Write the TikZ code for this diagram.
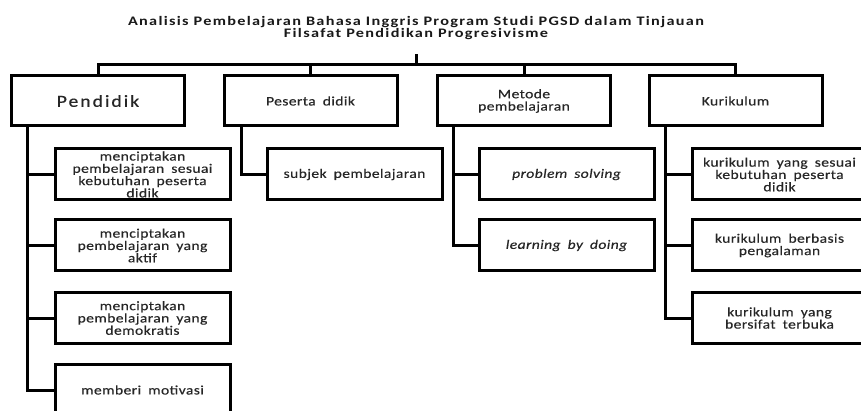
\documentclass[tikz,border=0pt]{standalone}
\usepackage{fontspec}
\setmainfont{Carlito}
\newfontfamily\boxf[FakeStretch=1.2,LetterSpace=3,WordSpace=1.8,FakeBold=0.3]{Carlito}
\newfontfamily\titf[FakeStretch=1.25,LetterSpace=10]{Carlito}
\newfontfamily\bigf[FakeStretch=1.15,LetterSpace=12,FakeBold=0.3]{Carlito}
\tikzset{
  box/.style={draw=black, line width=3pt, rectangle, align=center, inner sep=0pt,
    font=\boxf\fontsize{13}{12.3}\selectfont, text=black!85},
  topbox/.style={box, minimum width=173pt, minimum height=50pt},
  subbox/.style={box, minimum width=175pt, minimum height=51pt},
  conn/.style={draw=black, line width=3pt, line cap=rect},
}
\begin{document}
\begin{tikzpicture}[x=1pt,y=-1pt]
\useasboundingbox (0,0) rectangle (861,411);
\fill[white] (0,0) rectangle (861,411);
% title
\node[align=center, font=\titf\bfseries\fontsize{13}{12.3}\selectfont, inner sep=0pt, text=black!90] (title) at (416,28)
  {Analisis Pembelajaran Bahasa Inggris Program Studi PGSD dalam Tinjauan\\Filsafat Pendidikan Progresivisme};
\coordinate (stem) at (416,56);
% top boxes
\node[topbox, font=\bigf\fontsize{17}{17}\selectfont] (pend) at (98,101) {Pendidik};
\node[topbox] (pes) at (310.5,101) {Peserta didik};
\node[topbox] (met) at (524,101) {Metode\\pembelajaran};
\node[topbox] (kur) at (735.5,101) {Kurikulum};
% Pendidik children
\node[subbox] (p1) at (142.5,174.5) {menciptakan\\pembelajaran sesuai\\kebutuhan peserta\\didik};
\node[subbox] (p2) at (142.5,245.5) {menciptakan\\pembelajaran yang\\aktif};
\node[subbox] (p3) at (142.5,318) {menciptakan\\pembelajaran yang\\demokratis};
\node[subbox, minimum height=52pt] (p4) at (142.5,390) {memberi motivasi};
% Peserta child
\node[subbox] (s1) at (354.5,174.5) {subjek pembelajaran};
% Metode children
\node[subbox] (m1) at (566.5,174.5) {\itshape problem solving};
\node[subbox] (m2) at (566.5,245.5) {\itshape learning by doing};
% Kurikulum children
\node[subbox] (k1) at (779.5,174.5) {kurikulum yang sesuai\\kebutuhan peserta\\didik};
\node[subbox] (k2) at (779.5,245.5) {kurikulum berbasis\\pengalaman};
\node[subbox] (k3) at (779.5,318) {kurikulum yang\\bersifat terbuka};
% bus
\coordinate (bus) at (416,65);
\draw[conn] (stem) -- (bus);
\draw[conn] (pend.north) |- (bus);
\draw[conn] (kur.north) |- (bus);
\draw[conn] (pes.north) |- (bus);
\draw[conn] (met.north) |- (bus);
% spines
\draw[conn] ([xshift=17pt]pend.south west) |- (p1.west);
\draw[conn] ([xshift=17pt]pend.south west) |- (p2.west);
\draw[conn] ([xshift=17pt]pend.south west) |- (p3.west);
\draw[conn] ([xshift=17pt]pend.south west) |- (p4.west);
\draw[conn] ([xshift=19pt]pes.south west) |- (s1.west);
\draw[conn] ([xshift=17pt]met.south west) |- (m1.west);
\draw[conn] ([xshift=17pt]met.south west) |- (m2.west);
\draw[conn] ([xshift=18pt]kur.south west) |- (k1.west);
\draw[conn] ([xshift=18pt]kur.south west) |- (k2.west);
\draw[conn] ([xshift=18pt]kur.south west) |- (k3.west);
\end{tikzpicture}
\end{document}
